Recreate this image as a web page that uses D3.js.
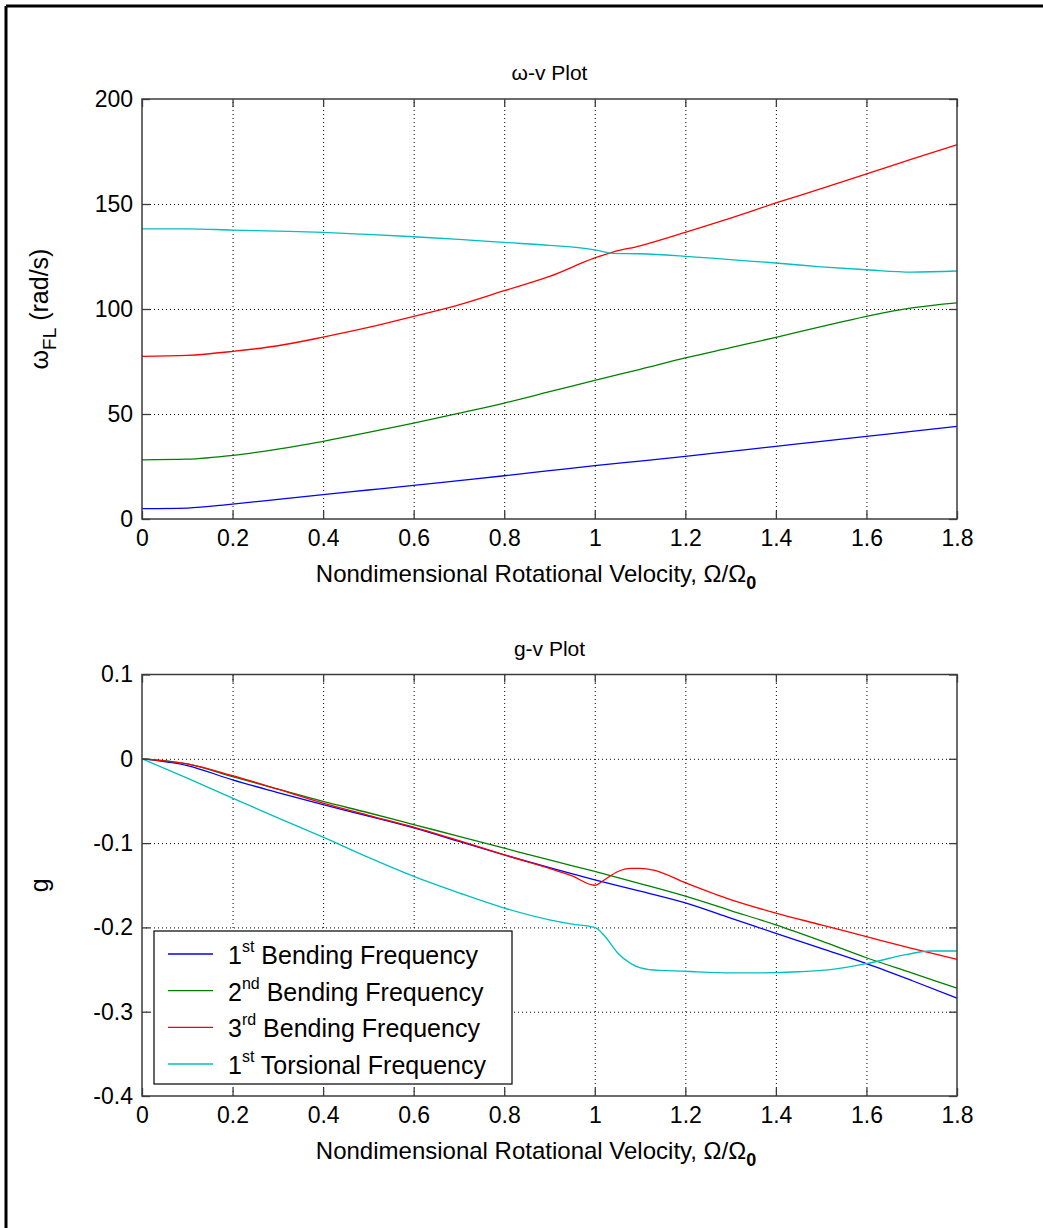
<!DOCTYPE html>
<html><head><meta charset="utf-8">
<script src="https://cdn.jsdelivr.net/npm/d3@7"></script>
<style>
body{margin:0;background:#fff;}
text{font-family:Arial,"Liberation Sans",Helvetica,sans-serif;fill:#000;}
</style></head>
<body>
<svg id="chart" width="1043" height="1228"></svg>
<script>
// ---------- data ----------
const xTickValues = [0,0.2,0.4,0.6,0.8,1.0,1.2,1.4,1.6,1.8];
const xTickLabels = ["0","0.2","0.4","0.6","0.8","1","1.2","1.4","1.6","1.8"];
const yTopTicks = [0,50,100,150,200];
const yTopLabels = ["0","50","100","150","200"];
const yBotTicks = [0.1,0,-0.1,-0.2,-0.3,-0.4];
const yBotLabels = ["0.1","0","-0.1","-0.2","-0.3","-0.4"];

const seriesNames = ["1st Bending Frequency","2nd Bending Frequency","3rd Bending Frequency","1st Torsional Frequency"];
const seriesColors = ["#0000ff","#008000","#ff0000","#00bfbf"];

// top panel: frequency (rad/s)
const xStd = [0,0.1,0.2,0.3,0.4,0.5,0.6,0.7,0.8,0.9,1.0,1.1,1.2,1.3,1.4,1.5,1.6,1.7,1.8];
const freqBend1 = [4.9,5.2,7.1,9.3,11.6,13.8,16.0,18.3,20.6,23.0,25.4,27.6,29.8,32.2,34.6,37.0,39.3,41.7,44.1];
const freqBend2 = [28.2,28.5,30.3,33.3,37.0,41.2,45.7,50.4,55.2,60.6,66.0,71.3,76.7,81.6,86.5,91.6,96.5,100.5,102.9];
const xFreq3 = [0,0.1,0.2,0.3,0.4,0.5,0.6,0.7,0.8,0.9,1.0,1.04,1.1,1.2,1.3,1.4,1.5,1.6,1.7,1.8];
const freqBend3 = [77.4,77.9,79.8,82.5,86.6,91.2,96.5,102.0,108.7,115.5,124.3,127.1,130.1,136.5,143.3,150.5,157.3,164.3,171.4,178.2];
const xFreqT = [0,0.1,0.2,0.3,0.4,0.5,0.6,0.7,0.8,0.9,1.0,1.04,1.1,1.2,1.3,1.4,1.5,1.6,1.7,1.8];
const freqTors1 = [138.2,138.2,137.6,137.1,136.5,135.5,134.4,133.2,131.7,130.3,128.2,126.5,126.3,125.1,123.5,121.9,120.1,118.7,117.6,118.1];

// bottom panel: damping g
const gBend1 = [0,-0.008,-0.025,-0.040,-0.0545,-0.068,-0.082,-0.098,-0.114,-0.129,-0.1435,-0.157,-0.171,-0.189,-0.207,-0.225,-0.243,-0.263,-0.284];
const gBend2 = [0,-0.006,-0.021,-0.036,-0.0506,-0.064,-0.078,-0.092,-0.106,-0.120,-0.1336,-0.148,-0.163,-0.180,-0.197,-0.216,-0.236,-0.254,-0.272];
const xG3 = [0,0.1,0.2,0.3,0.4,0.5,0.6,0.7,0.8,0.9,0.95,1.0,1.02,1.05,1.08,1.1,1.13,1.2,1.3,1.4,1.5,1.6,1.7,1.8];
const gBend3 = [0,-0.006,-0.020,-0.036,-0.0526,-0.067,-0.081,-0.097,-0.114,-0.130,-0.139,-0.150,-0.144,-0.134,-0.130,-0.130,-0.132,-0.147,-0.167,-0.183,-0.197,-0.211,-0.225,-0.238];
const xGT = [0,0.1,0.2,0.3,0.4,0.5,0.6,0.7,0.8,0.9,0.95,1.0,1.02,1.05,1.08,1.12,1.2,1.3,1.35,1.45,1.52,1.6,1.69,1.74,1.8];
const gTors1 = [0,-0.023,-0.0466,-0.070,-0.093,-0.117,-0.1395,-0.159,-0.177,-0.191,-0.196,-0.200,-0.209,-0.230,-0.243,-0.250,-0.252,-0.254,-0.254,-0.2526,-0.250,-0.243,-0.232,-0.228,-0.228];

// ---------- drawing ----------
const svg = d3.select("#chart");
const FS = 23;

// figure frame (top & left edges)
svg.append("line").attr("x1",6).attr("x2",1043).attr("y1",6).attr("y2",6).attr("stroke","#000").attr("stroke-width",3);
svg.append("line").attr("x1",6).attr("x2",6).attr("y1",6).attr("y2",1228).attr("stroke","#000").attr("stroke-width",3);

function zipXY(xs, ys){ return xs.map((x,i)=>[x,ys[i]]); }

function panel(opts){
  const {left,right,top,bottom,yDomain,yTicks,yLabels,title,series,yLabelFn} = opts;
  const x = d3.scaleLinear().domain([0,1.8]).range([left,right]);
  const y = d3.scaleLinear().domain(yDomain).range([bottom,top]);
  const g = svg.append("g");
  const W = right-left, H = bottom-top;

  // grid
  g.append("g").attr("transform",`translate(0,${bottom})`)
    .call(d3.axisBottom(x).tickValues(xTickValues.slice(1,-1)).tickSize(-H).tickFormat(""))
    .call(a=>{a.select(".domain").remove();a.selectAll("line").attr("stroke","#000").attr("stroke-width",1).attr("stroke-dasharray","1,3");});
  g.append("g").attr("transform",`translate(${left},0)`)
    .call(d3.axisLeft(y).tickValues(yTicks.filter(v=>v!==yDomain[0]&&v!==yDomain[1])).tickSize(-W).tickFormat(""))
    .call(a=>{a.select(".domain").remove();a.selectAll("line").attr("stroke","#000").attr("stroke-width",1).attr("stroke-dasharray","1,3");});

  // lines
  const line = d3.line().x(d=>x(d[0])).y(d=>y(d[1])).curve(d3.curveMonotoneX);
  series.forEach((s,i)=>{
    g.append("path").datum(zipXY(s.x,s.y)).attr("d",line)
      .attr("fill","none").attr("stroke",seriesColors[i]).attr("stroke-width",1.3);
  });

  // box
  g.append("rect").attr("x",left).attr("y",top).attr("width",W).attr("height",H)
    .attr("fill","none").attr("stroke","#3c3c3c").attr("stroke-width",1.5);

  // inward ticks on four sides
  const tk = 8;
  const tickStyle = a=>{a.select(".domain").remove();a.selectAll("line").attr("stroke","#3c3c3c").attr("stroke-width",1.3);};
  g.append("g").attr("transform",`translate(0,${bottom})`).call(d3.axisBottom(x).tickValues(xTickValues).tickSize(-tk).tickFormat("")).call(tickStyle);
  g.append("g").attr("transform",`translate(0,${top})`).call(d3.axisTop(x).tickValues(xTickValues).tickSize(-tk).tickFormat("")).call(tickStyle);
  g.append("g").attr("transform",`translate(${left},0)`).call(d3.axisLeft(y).tickValues(yTicks).tickSize(-tk).tickFormat("")).call(tickStyle);
  g.append("g").attr("transform",`translate(${right},0)`).call(d3.axisRight(y).tickValues(yTicks).tickSize(-tk).tickFormat("")).call(tickStyle);

  // tick labels
  const lblStyle = a=>{a.select(".domain").remove();a.selectAll("text").attr("font-size",FS).attr("font-family","Arial, 'Liberation Sans', sans-serif").attr("fill","#000");};
  g.append("g").attr("transform",`translate(0,${bottom})`)
    .call(d3.axisBottom(x).tickValues(xTickValues).tickSize(0).tickPadding(11).tickFormat((d,i)=>xTickLabels[i])).call(lblStyle);
  g.append("g").attr("transform",`translate(${left},0)`)
    .call(d3.axisLeft(y).tickValues(yTicks).tickSize(0).tickPadding(9).tickFormat((d,i)=>yLabels[i])).call(lblStyle);

  // title
  g.append("text").attr("x",(left+right)/2).attr("y",top-19).attr("text-anchor","middle").attr("font-size",21).text(title);

  // x label
  const xl = g.append("text").attr("x",536).attr("y",bottom+63).attr("text-anchor","middle").attr("font-size",24);
  xl.append("tspan").text("Nondimensional Rotational Velocity, Ω/Ω");
  xl.append("tspan").attr("font-size",18).attr("font-weight","bold").attr("dy",7).text("0");

  // y label
  yLabelFn(g, 48, (top+bottom)/2);
  return {x,y};
}

panel({left:142,right:957,top:99,bottom:519,yDomain:[0,200],yTicks:yTopTicks,yLabels:yTopLabels,title:"ω-v Plot",
  series:[{x:xStd,y:freqBend1},{x:xStd,y:freqBend2},{x:xFreq3,y:freqBend3},{x:xFreqT,y:freqTors1}],
  yLabelFn:(g,lx,ly)=>{
    const t=g.append("text").attr("transform",`translate(${lx},${ly}) rotate(-90)`).attr("text-anchor","middle").attr("font-size",25);
    t.append("tspan").text("ω");
    t.append("tspan").attr("font-size",19).attr("dy",8).text("FL");
    t.append("tspan").attr("dy",-8).text(" (rad/s)");
  }});

panel({left:142,right:957,top:674.5,bottom:1096,yDomain:[-0.4,0.1],yTicks:yBotTicks,yLabels:yBotLabels,title:"g-v Plot",
  series:[{x:xStd,y:gBend1},{x:xStd,y:gBend2},{x:xG3,y:gBend3},{x:xGT,y:gTors1}],
  yLabelFn:(g,lx,ly)=>{
    g.append("text").attr("transform",`translate(${lx},${ly}) rotate(-90)`).attr("text-anchor","middle").attr("font-size",25).text("g");
  }});

// legend
const legend = svg.append("g");
legend.append("rect").attr("x",154).attr("y",931).attr("width",358).attr("height",153)
  .attr("fill","#fff").attr("stroke","#000").attr("stroke-width",1.2);
const ord = ["st","nd","rd","st"];
const lead = ["1","2","3","1"];
const rest = [" Bending Frequency"," Bending Frequency"," Bending Frequency"," Torsional Frequency"];
const rowY = d3.scaleLinear().domain([0,3]).range([954,1064]);
seriesNames.forEach((name,i)=>{
  const yy = rowY(i);
  legend.append("line").attr("x1",168).attr("x2",213).attr("y1",yy).attr("y2",yy).attr("stroke",seriesColors[i]).attr("stroke-width",1.3);
  const t = legend.append("text").attr("x",228).attr("y",yy+10).attr("font-size",25);
  t.append("tspan").text(lead[i]);
  t.append("tspan").attr("font-size",16).attr("dy",-12).text(ord[i]);
  t.append("tspan").attr("dy",12).text(rest[i]);
});
</script>
</body></html>
